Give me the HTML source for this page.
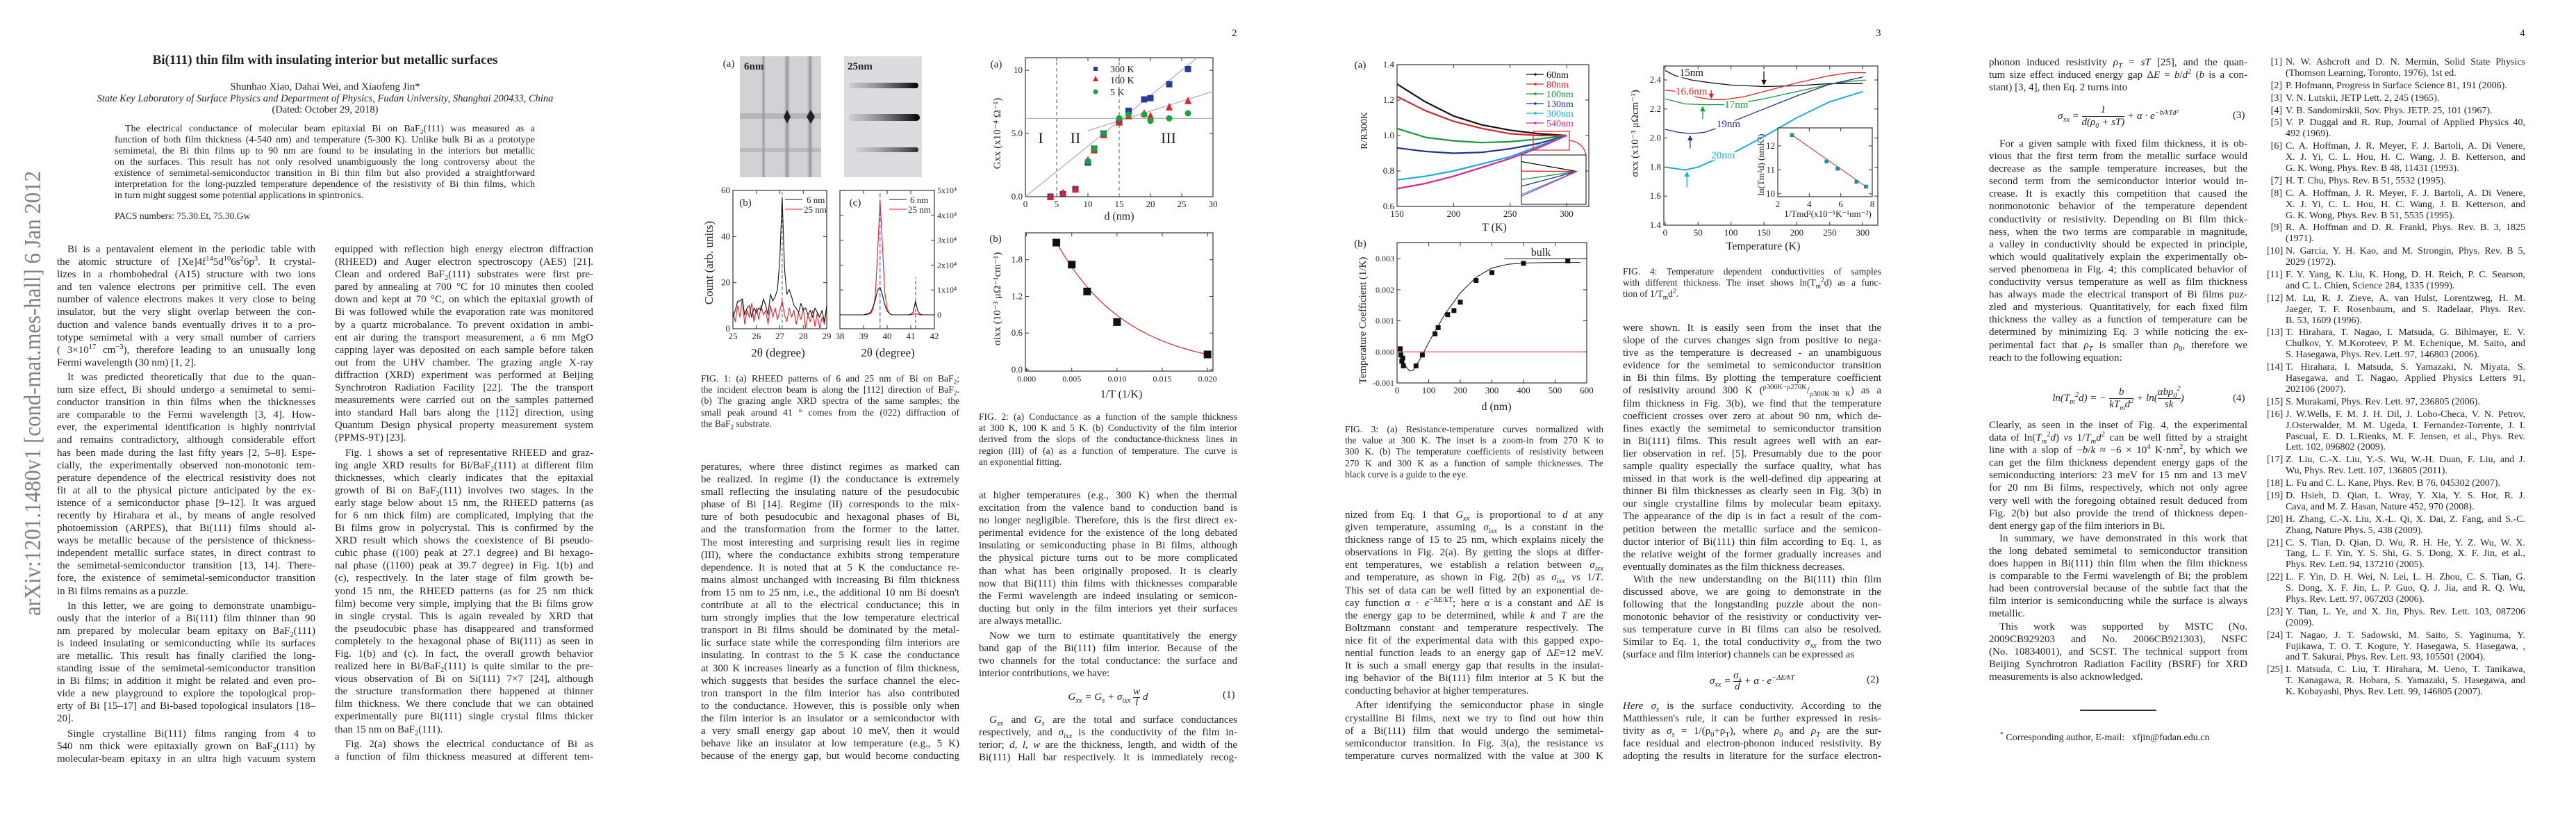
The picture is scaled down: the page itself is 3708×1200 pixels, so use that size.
<!DOCTYPE html>
<html><head><meta charset="utf-8">
<style>
html,body{margin:0;padding:0;background:#fff}
body{width:3708px;height:1200px;position:relative;overflow:hidden;font-family:"Liberation Serif",serif;color:#222}
.col{position:absolute;width:372px;font-size:15px;line-height:18.1px}
.col div{height:18.1px;overflow:hidden;text-align:justify;text-align-last:justify;white-space:normal}
.col .i{text-indent:15px}
.col .e{text-align-last:left}
.col .p{margin-top:3px}
.cap{position:absolute;width:372px;font-size:13.5px;line-height:16.2px}
.cap div{height:16.2px;overflow:hidden;text-align:justify;text-align-last:justify}
.cap .e{text-align-last:left}
.abs{position:absolute;left:165px;top:178px;width:605px;font-size:14px;line-height:16px}
.abs div{height:16px;overflow:hidden;text-align:justify;text-align-last:justify}
.abs .i{text-indent:15px}.abs .e{text-align-last:left}
.ctr{position:absolute;text-align:center;white-space:nowrap}
.eq{position:absolute;width:372px;text-align:center;font-size:15px;font-style:italic}
.eqn{position:absolute;font-size:15px}
.refs{position:absolute;left:3263px;top:82px;width:372px;font-size:14px;line-height:15.9px}
.ref{position:relative;padding-left:27px;margin-bottom:2px}
.ref span.n{position:absolute;left:0;width:22px;text-align:right}
.ref div{height:15.9px;overflow:hidden;text-align:justify;text-align-last:justify}
.ref div.e{text-align-last:left}
.pn{position:absolute;top:40px;font-size:15px}
sub,sup{font-size:70%;line-height:0}
#figs{position:absolute;left:0;top:0}
</style></head>
<body>

<!-- PAGE 1 -->
<div class="ctr" style="left:0;width:936px;top:76px;font-size:19px;font-weight:bold">Bi(111) thin film with insulating interior but metallic surfaces</div>
<div class="ctr" style="left:0;width:936px;top:117px;font-size:15px">Shunhao Xiao, Dahai Wei, and Xiaofeng Jin*</div>
<div class="ctr" style="left:0;width:936px;top:134px;font-size:14.5px;font-style:italic">State Key Laboratory of Surface Physics and Department of Physics, Fudan University, Shanghai 200433, China</div>
<div class="ctr" style="left:0;width:936px;top:150px;font-size:14.5px">(Dated: October 29, 2018)</div>
<div class="abs">
<div class="i">The electrical conductance of molecular beam epitaxial Bi on BaF<sub>2</sub>(111) was measured as a</div>
<div>function of both film thickness (4-540 nm) and temperature (5-300 K). Unlike bulk Bi as a prototype</div>
<div>semimetal, the Bi thin films up to 90 nm are found to be insulating in the interiors but metallic</div>
<div>on the surfaces. This result has not only resolved unambiguously the long controversy about the</div>
<div>existence of semimetal-semiconductor transition in Bi thin film but also provided a straightforward</div>
<div>interpretation for the long-puzzled temperature dependence of the resistivity of Bi thin films, which</div>
<div class="e">in turn might suggest some potential applications in spintronics.</div>
</div>
<div class="ctr" style="left:165px;top:303px;font-size:13.5px">PACS numbers: 75.30.Et, 75.30.Gw</div>

<div class="col" style="left:82px;top:350px">
<div class="i">Bi is a pentavalent element in the periodic table with</div>
<div>the atomic structure of [Xe]4f<sup>14</sup>5d<sup>10</sup>6s<sup>2</sup>6p<sup>3</sup>. It crystal-</div>
<div>lizes in a rhombohedral (A15) structure with two ions</div>
<div>and ten valence electrons per primitive cell. The even</div>
<div>number of valence electrons makes it very close to being</div>
<div>insulator, but the very slight overlap between the con-</div>
<div>duction and valence bands eventually drives it to a pro-</div>
<div>totype semimetal with a very small number of carriers</div>
<div>( 3×10<sup>17</sup> cm<sup>−3</sup>), therefore leading to an unusually long</div>
<div class="e">Fermi wavelength (30 nm) [1, 2].</div>
<div class="i p">It was predicted theoretically that due to the quan-</div>
<div>tum size effect, Bi should undergo a semimetal to semi-</div>
<div>conductor transition in thin films when the thicknesses</div>
<div>are comparable to the Fermi wavelength [3, 4]. How-</div>
<div>ever, the experimental identification is highly nontrivial</div>
<div>and remains contradictory, although considerable effort</div>
<div>has been made during the last fifty years [2, 5–8]. Espe-</div>
<div>cially, the experimentally observed non-monotonic tem-</div>
<div>perature dependence of the electrical resistivity does not</div>
<div>fit at all to the physical picture anticipated by the ex-</div>
<div>istence of a semiconductor phase [9–12]. It was argued</div>
<div>recently by Hirahara et al., by means of angle resolved</div>
<div>photoemission (ARPES), that Bi(111) films should al-</div>
<div>ways be metallic because of the persistence of thickness-</div>
<div>independent metallic surface states, in direct contrast to</div>
<div>the semimetal-semiconductor transition [13, 14]. There-</div>
<div>fore, the existence of semimetal-semiconductor transition</div>
<div class="e">in Bi films remains as a puzzle.</div>
<div class="i p">In this letter, we are going to demonstrate unambigu-</div>
<div>ously that the interior of a Bi(111) film thinner than 90</div>
<div>nm prepared by molecular beam epitaxy on BaF<sub>2</sub>(111)</div>
<div>is indeed insulating or semiconducting while its surfaces</div>
<div>are metallic. This result has finally clarified the long-</div>
<div>standing issue of the semimetal-semiconductor transition</div>
<div>in Bi films; in addition it might be related and even pro-</div>
<div>vide a new playground to explore the topological prop-</div>
<div>erty of Bi [15–17] and Bi-based topological insulators [18–</div>
<div class="e">20].</div>
<div class="i p">Single crystalline Bi(111) films ranging from 4 to</div>
<div>540 nm thick were epitaxially grown on BaF<sub>2</sub>(111) by</div>
<div>molecular-beam epitaxy in an ultra high vacuum system</div>
</div>

<div class="col" style="left:482px;top:350px">
<div>equipped with reflection high energy electron diffraction</div>
<div>(RHEED) and Auger electron spectroscopy (AES) [21].</div>
<div>Clean and ordered BaF<sub>2</sub>(111) substrates were first pre-</div>
<div>pared by annealing at 700 °C for 10 minutes then cooled</div>
<div>down and kept at 70 °C, on which the epitaxial growth of</div>
<div>Bi was followed while the evaporation rate was monitored</div>
<div>by a quartz microbalance. To prevent oxidation in ambi-</div>
<div>ent air during the transport measurement, a 6 nm MgO</div>
<div>capping layer was deposited on each sample before taken</div>
<div>out from the UHV chamber. The grazing angle X-ray</div>
<div>diffraction (XRD) experiment was performed at Beijing</div>
<div>Synchrotron Radiation Facility [22]. The the transport</div>
<div>measurements were carried out on the samples patterned</div>
<div>into standard Hall bars along the [11<span style="text-decoration:overline">2</span>] direction, using</div>
<div>Quantum Design physical property measurement system</div>
<div class="e">(PPMS-9T) [23].</div>
<div class="i p">Fig. 1 shows a set of representative RHEED and graz-</div>
<div>ing angle XRD results for Bi/BaF<sub>2</sub>(111) at different film</div>
<div>thicknesses, which clearly indicates that the epitaxial</div>
<div>growth of Bi on BaF<sub>2</sub>(111) involves two stages. In the</div>
<div>early stage below about 15 nm, the RHEED patterns (as</div>
<div>for 6 nm thick film) are complicated, implying that the</div>
<div>Bi films grow in polycrystal. This is confirmed by the</div>
<div>XRD result which shows the coexistence of Bi pseudo-</div>
<div>cubic phase ((100) peak at 27.1 degree) and Bi hexago-</div>
<div>nal phase ((1100) peak at 39.7 degree) in Fig. 1(b) and</div>
<div>(c), respectively. In the later stage of film growth be-</div>
<div>yond 15 nm, the RHEED patterns (as for 25 nm thick</div>
<div>film) become very simple, implying that the Bi films grow</div>
<div>in single crystal. This is again revealed by XRD that</div>
<div>the pseudocubic phase has disappeared and transformed</div>
<div>completely to the hexagonal phase of Bi(111) as seen in</div>
<div>Fig. 1(b) and (c). In fact, the overall growth behavior</div>
<div>realized here in Bi/BaF<sub>2</sub>(111) is quite similar to the pre-</div>
<div>vious observation of Bi on Si(111) 7×7 [24], although</div>
<div>the structure transformation there happened at thinner</div>
<div>film thickness. We there conclude that we can obtained</div>
<div>experimentally pure Bi(111) single crystal films thicker</div>
<div class="e">than 15 nm on BaF<sub>2</sub>(111).</div>
<div class="i p">Fig. 2(a) shows the electrical conductance of Bi as</div>
<div>a function of film thickness measured at different tem-</div>
</div>

<!-- PAGE 2 -->
<div class="pn" style="left:1773px">2</div>
<div class="cap" style="left:1009px;top:537px">
<div>FIG. 1: (a) RHEED patterns of 6 and 25 nm of Bi on BaF<sub>2</sub>;</div>
<div>the incident electron beam is along the [11<span style="text-decoration:overline">2</span>] direction of BaF<sub>2</sub>.</div>
<div>(b) The grazing angle XRD spectra of the same samples; the</div>
<div>small peak around 41 ° comes from the (0<span style="text-decoration:overline">2</span>2) diffraction of</div>
<div class="e">the BaF<sub>2</sub> substrate.</div>
</div>
<div class="cap" style="left:1409px;top:592px">
<div>FIG. 2: (a) Conductance as a function of the sample thickness</div>
<div>at 300 K, 100 K and 5 K. (b) Conductivity of the film interior</div>
<div>derived from the slops of the conductance-thickness lines in</div>
<div>region (III) of (a) as a function of temperature. The curve is</div>
<div class="e">an exponential fitting.</div>
</div>
<div class="col" style="left:1009px;top:663px">
<div>peratures, where three distinct regimes as marked can</div>
<div>be realized. In regime (I) the conductance is extremely</div>
<div>small reflecting the insulating nature of the pesudocubic</div>
<div>phase of Bi [14]. Regime (II) corresponds to the mix-</div>
<div>ture of both pesudocubic and hexagonal phases of Bi,</div>
<div>and the transformation from the former to the latter.</div>
<div>The most interesting and surprising result lies in regime</div>
<div>(III), where the conductance exhibits strong temperature</div>
<div>dependence. It is noted that at 5 K the conductance re-</div>
<div>mains almost unchanged with increasing Bi film thickness</div>
<div>from 15 nm to 25 nm, i.e., the additional 10 nm Bi doesn't</div>
<div>contribute at all to the electrical conductance; this in</div>
<div>turn strongly implies that the low temperature electrical</div>
<div>transport in Bi films should be dominated by the metal-</div>
<div>lic surface state while the corresponding film interiors are</div>
<div>insulating. In contrast to the 5 K case the conductance</div>
<div>at 300 K increases linearly as a function of film thickness,</div>
<div>which suggests that besides the surface channel the elec-</div>
<div>tron transport in the film interior has also contributed</div>
<div>to the conductance. However, this is possible only when</div>
<div>the film interior is an insulator or a semiconductor with</div>
<div>a very small energy gap about 10 meV, then it would</div>
<div>behave like an insulator at low temperature (e.g., 5 K)</div>
<div>because of the energy gap, but would become conducting</div>
</div>
<div class="col" style="left:1409px;top:704px">
<div>at higher temperatures (e.g., 300 K) when the thermal</div>
<div>excitation from the valence band to conduction band is</div>
<div>no longer negligible. Therefore, this is the first direct ex-</div>
<div>perimental evidence for the existence of the long debated</div>
<div>insulating or semiconducting phase in Bi films, although</div>
<div>the physical picture turns out to be more complicated</div>
<div>than what has been originally proposed. It is clearly</div>
<div>now that Bi(111) thin films with thicknesses comparable</div>
<div>the Fermi wavelength are indeed insulating or semicon-</div>
<div>ducting but only in the film interiors yet their surfaces</div>
<div class="e">are always metallic.</div>
<div class="i p">Now we turn to estimate quantitatively the energy</div>
<div>band gap of the Bi(111) film interior. Because of the</div>
<div>two channels for the total conductance: the surface and</div>
<div class="e">interior contributions, we have:</div>
</div>
<div class="eq" style="left:1409px;top:988px">G<sub>xx</sub> = G<sub>s</sub> + σ<sub>ixx</sub> <span style="display:inline-block;vertical-align:middle;text-align:center;line-height:15px">w<br><span style="border-top:1px solid #222;display:block">l</span></span> d</div>
<div class="eqn" style="left:1760px;top:992px">(1)</div>
<div class="col" style="left:1409px;top:1027px">
<div class="i"><i>G<sub>xx</sub></i> and <i>G<sub>s</sub></i> are the total and surface conductances</div>
<div>respectively, and <i>σ<sub>ixx</sub></i> is the conductivity of the film in-</div>
<div>terior; <i>d</i>, <i>l</i>, <i>w</i> are the thickness, length, and width of the</div>
<div>Bi(111) Hall bar respectively. It is immediately recog-</div>
</div>

<!-- PAGE 3 -->
<div class="pn" style="left:2700px">3</div>
<div class="cap" style="left:2336px;top:383px">
<div>FIG. 4: Temperature dependent conductivities of samples</div>
<div>with different thickness. The inset shows ln(T<sub>m</sub><sup>2</sup>d) as a func-</div>
<div class="e">tion of 1/T<sub>m</sub>d<sup>2</sup>.</div>
</div>
<div class="cap" style="left:1936px;top:610px">
<div>FIG. 3: (a) Resistance-temperature curves normalized with</div>
<div>the value at 300 K. The inset is a zoom-in from 270 K to</div>
<div>300 K. (b) The temperature coefficients of resistivity between</div>
<div>270 K and 300 K as a function of sample thicknesses. The</div>
<div class="e">black curve is a guide to the eye.</div>
</div>
<div class="col" style="left:1936px;top:732px">
<div>nized from Eq. 1 that <i>G<sub>xx</sub></i> is proportional to <i>d</i> at any</div>
<div>given temperature, assuming <i>σ<sub>ixx</sub></i> is a constant in the</div>
<div>thickness range of 15 to 25 nm, which explains nicely the</div>
<div>observations in Fig. 2(a). By getting the slops at differ-</div>
<div>ent temperatures, we establish a relation between <i>σ<sub>ixx</sub></i></div>
<div>and temperature, as shown in Fig. 2(b) as <i>σ<sub>ixx</sub> vs</i> 1/<i>T</i>.</div>
<div>This set of data can be well fitted by an exponential de-</div>
<div>cay function <i>α</i> · <i>e</i><sup>−ΔE/kT</sup>; here <i>α</i> is a constant and Δ<i>E</i> is</div>
<div>the energy gap to be determined, while <i>k</i> and <i>T</i> are the</div>
<div>Boltzmann constant and temperature respectively. The</div>
<div>nice fit of the experimental data with this gapped expo-</div>
<div>nential function leads to an energy gap of Δ<i>E</i>=12 meV.</div>
<div>It is such a small energy gap that results in the insulat-</div>
<div>ing behavior of the Bi(111) film interior at 5 K but the</div>
<div class="e">conducting behavior at higher temperatures.</div>
<div class="i p">After identifying the semiconductor phase in single</div>
<div>crystalline Bi films, next we try to find out how thin</div>
<div>of a Bi(111) film that would undergo the semimetal-</div>
<div>semiconductor transition. In Fig. 3(a), the resistance <i>vs</i></div>
<div>temperature curves normalized with the value at 300 K</div>
</div>
<div class="col" style="left:2336px;top:463px">
<div>were shown. It is easily seen from the inset that the</div>
<div>slope of the curves changes sign from positive to nega-</div>
<div>tive as the temperature is decreased - an unambiguous</div>
<div>evidence for the semimetal to semiconductor transition</div>
<div>in Bi thin films. By plotting the temperature coefficient</div>
<div>of resistivity around 300 K (<sup>ρ300K−ρ270K</sup>/<sub>ρ300K·30 K</sub>) as a function of</div>
<div>film thickness in Fig. 3(b), we find that the temperature</div>
<div>coefficient crosses over zero at about 90 nm, which de-</div>
<div>fines exactly the semimetal to semiconductor transition</div>
<div>in Bi(111) films. This result agrees well with an ear-</div>
<div>lier observation in ref. [5]. Presumably due to the poor</div>
<div>sample quality especially the surface quality, what has</div>
<div>missed in that work is the well-defined dip appearing at</div>
<div>thinner Bi film thicknesses as clearly seen in Fig. 3(b) in</div>
<div>our single crystalline films by molecular beam epitaxy.</div>
<div>The appearance of the dip is in fact a result of the com-</div>
<div>petition between the metallic surface and the semicon-</div>
<div>ductor interior of Bi(111) thin film according to Eq. 1, as</div>
<div>the relative weight of the former gradually increases and</div>
<div class="e">eventually dominates as the film thickness decreases.</div>
<div class="i">With the new understanding on the Bi(111) thin film</div>
<div>discussed above, we are going to demonstrate in the</div>
<div>following that the longstanding puzzle about the non-</div>
<div>monotonic behavior of the resistivity or conductivity ver-</div>
<div>sus temperature curve in Bi films can also be resolved.</div>
<div>Similar to Eq. 1, the total conductivity <i>σ<sub>xx</sub></i> from the two</div>
<div class="e">(surface and film interior) channels can be expressed as</div>
</div>
<div class="eq" style="left:2336px;top:965px">σ<sub>xx</sub> = <span style="display:inline-block;vertical-align:middle;text-align:center;line-height:15px">σ<sub>s</sub><br><span style="border-top:1px solid #222;display:block">d</span></span> + α · e<sup>−ΔE/kT</sup></div>
<div class="eqn" style="left:2687px;top:970px">(2)</div>
<div class="col" style="left:2336px;top:1007px">
<div><i>Here σ<sub>s</sub></i> is the surface conductivity. According to the</div>
<div>Matthiessen's rule, it can be further expressed in resis-</div>
<div>tivity as <i>σ<sub>s</sub></i> = 1/(ρ<sub>0</sub>+ρ<sub>T</sub>), where <i>ρ</i><sub>0</sub> and <i>ρ<sub>T</sub></i> are the sur-</div>
<div>face residual and electron-phonon induced resistivity. By</div>
<div>adopting the results in literature for the surface electron-</div>
</div>

<!-- PAGE 4 -->
<div class="pn" style="left:3627px">4</div>
<div class="col" style="left:2863px;top:81px">
<div>phonon induced resistivity <i>ρ<sub>T</sub></i> = <i>sT</i> [25], and the quan-</div>
<div>tum size effect induced energy gap Δ<i>E</i> = <i>b</i>/<i>d</i><sup>2</sup> (<i>b</i> is a con-</div>
<div class="e">stant) [3, 4], then Eq. 2 turns into</div>
</div>
<div class="eq" style="left:2863px;top:150px">σ<sub>xx</sub> = <span style="display:inline-block;vertical-align:middle;text-align:center;line-height:17px">1<br><span style="border-top:1px solid #222;display:block">d(ρ<sub>0</sub> + sT)</span></span> + α · e<sup>−b/kTd²</sup></div>
<div class="eqn" style="left:3214px;top:158px">(3)</div>
<div class="col" style="left:2863px;top:198px">
<div class="i">For a given sample with fixed film thickness, it is ob-</div>
<div>vious that the first term from the metallic surface would</div>
<div>decrease as the sample temperature increases, but the</div>
<div>second term from the semiconductor interior would in-</div>
<div>crease. It is exactly this competition that caused the</div>
<div>nonmonotonic behavior of the temperature dependent</div>
<div>conductivity or resistivity. Depending on Bi film thick-</div>
<div>ness, when the two terms are comparable in magnitude,</div>
<div>a valley in conductivity should be expected in principle,</div>
<div>which would qualitatively explain the experimentally ob-</div>
<div>served phenomena in Fig. 4; this complicated behavior of</div>
<div>conductivity versus temperature as well as film thickness</div>
<div>has always made the electrical transport of Bi films puz-</div>
<div>zled and mysterious. Quantitatively, for each fixed film</div>
<div>thickness the valley as a function of temperature can be</div>
<div>determined by minimizing Eq. 3 while noticing the ex-</div>
<div>perimental fact that <i>ρ<sub>T</sub></i> is smaller than <i>ρ</i><sub>0</sub>, therefore we</div>
<div class="e">reach to the following equation:</div>
</div>
<div class="eq" style="left:2863px;top:556px">ln(T<sub>m</sub><sup>2</sup>d) = − <span style="display:inline-block;vertical-align:middle;text-align:center;line-height:17px">b<br><span style="border-top:1px solid #222;display:block">kT<sub>m</sub>d<sup>2</sup></span></span> + ln(<span style="display:inline-block;vertical-align:middle;text-align:center;line-height:17px">αbρ<sub>0</sub><sup>2</sup><br><span style="border-top:1px solid #222;display:block">sk</span></span>)</div>
<div class="eqn" style="left:3214px;top:565px">(4)</div>
<div class="col" style="left:2863px;top:603px">
<div>Clearly, as seen in the inset of Fig. 4, the experimental</div>
<div>data of ln(<i>T<sub>m</sub></i><sup>2</sup><i>d</i>) <i>vs</i> 1/<i>T<sub>m</sub>d</i><sup>2</sup> can be well fitted by a straight</div>
<div>line with a slop of −<i>b</i>/<i>k</i> ≈ −6 × 10<sup>4</sup> K·nm<sup>2</sup>, by which we</div>
<div>can get the film thickness dependent energy gaps of the</div>
<div>semiconducting interiors: 23 meV for 15 nm and 13 meV</div>
<div>for 20 nm Bi films, respectively, which not only agree</div>
<div>very well with the foregoing obtained result deduced from</div>
<div>Fig. 2(b) but also provide the trend of thickness depen-</div>
<div class="e">dent energy gap of the film interiors in Bi.</div>
<div class="i">In summary, we have demonstrated in this work that</div>
<div>the long debated semimetal to semiconductor transition</div>
<div>does happen in Bi(111) thin film when the film thickness</div>
<div>is comparable to the Fermi wavelength of Bi; the problem</div>
<div>had been controversial because of the subtle fact that the</div>
<div>film interior is semiconducting while the surface is always</div>
<div class="e">metallic.</div>
<div class="i">This work was supported by MSTC (No.</div>
<div>2009CB929203 and No. 2006CB921303), NSFC</div>
<div>(No. 10834001), and SCST. The technical support from</div>
<div>Beijing Synchrotron Radiation Facility (BSRF) for XRD</div>
<div class="e">measurements is also acknowledged.</div>
</div>
<div style="position:absolute;left:2994px;top:1021px;width:110px;height:1.5px;background:#333"></div>
<div class="ctr" style="left:2879px;top:1054px;font-size:14px"><sup>*</sup> Corresponding author, E-mail: &nbsp; xfjin@fudan.edu.cn</div>

<div class="refs">
<div class="ref"><span class="n">[1]</span><div>N. W. Ashcroft and D. N. Mermin, Solid State Physics</div><div class="e">(Thomson Learning, Toronto, 1976), 1st ed.</div></div>
<div class="ref"><span class="n">[2]</span><div class="e">P. Hofmann, Progress in Surface Science 81, 191 (2006).</div></div>
<div class="ref"><span class="n">[3]</span><div class="e">V. N. Lutskii, JETP Lett. 2, 245 (1965).</div></div>
<div class="ref"><span class="n">[4]</span><div class="e">V. B. Sandomirskii, Sov. Phys. JETP. 25, 101 (1967).</div></div>
<div class="ref"><span class="n">[5]</span><div>V. P. Duggal and R. Rup, Journal of Applied Physics 40,</div><div class="e">492 (1969).</div></div>
<div class="ref"><span class="n">[6]</span><div>C. A. Hoffman, J. R. Meyer, F. J. Bartoli, A. Di Venere,</div><div>X. J. Yi, C. L. Hou, H. C. Wang, J. B. Ketterson, and</div><div class="e">G. K. Wong, Phys. Rev. B 48, 11431 (1993).</div></div>
<div class="ref"><span class="n">[7]</span><div class="e">H. T. Chu, Phys. Rev. B 51, 5532 (1995).</div></div>
<div class="ref"><span class="n">[8]</span><div>C. A. Hoffman, J. R. Meyer, F. J. Bartoli, A. Di Venere,</div><div>X. J. Yi, C. L. Hou, H. C. Wang, J. B. Ketterson, and</div><div class="e">G. K. Wong, Phys. Rev. B 51, 5535 (1995).</div></div>
<div class="ref"><span class="n">[9]</span><div>R. A. Hoffman and D. R. Frankl, Phys. Rev. B. 3, 1825</div><div class="e">(1971).</div></div>
<div class="ref"><span class="n">[10]</span><div>N. Garcia, Y. H. Kao, and M. Strongin, Phys. Rev. B 5,</div><div class="e">2029 (1972).</div></div>
<div class="ref"><span class="n">[11]</span><div>F. Y. Yang, K. Liu, K. Hong, D. H. Reich, P. C. Searson,</div><div class="e">and C. L. Chien, Science 284, 1335 (1999).</div></div>
<div class="ref"><span class="n">[12]</span><div>M. Lu, R. J. Zieve, A. van Hulst, Lorentzweg, H. M.</div><div>Jaeger, T. F. Rosenbaum, and S. Radelaar, Phys. Rev.</div><div class="e">B. 53, 1609 (1996).</div></div>
<div class="ref"><span class="n">[13]</span><div>T. Hirahara, T. Nagao, I. Matsuda, G. Bihlmayer, E. V.</div><div>Chulkov, Y. M.Koroteev, P. M. Echenique, M. Saito, and</div><div class="e">S. Hasegawa, Phys. Rev. Lett. 97, 146803 (2006).</div></div>
<div class="ref"><span class="n">[14]</span><div>T. Hirahara, I. Matsuda, S. Yamazaki, N. Miyata, S.</div><div>Hasegawa, and T. Nagao, Applied Physics Letters 91,</div><div class="e">202106 (2007).</div></div>
<div class="ref"><span class="n">[15]</span><div class="e">S. Murakami, Phys. Rev. Lett. 97, 236805 (2006).</div></div>
<div class="ref"><span class="n">[16]</span><div>J. W.Wells, F. M. J. H. Dil, J. Lobo-Checa, V. N. Petrov,</div><div>J.Osterwalder, M. M. Ugeda, I. Fernandez-Torrente, J. I.</div><div>Pascual, E. D. L.Rienks, M. F. Jensen, et al., Phys. Rev.</div><div class="e">Lett. 102, 096802 (2009).</div></div>
<div class="ref"><span class="n">[17]</span><div>Z. Liu, C.-X. Liu, Y.-S. Wu, W.-H. Duan, F. Liu, and J.</div><div class="e">Wu, Phys. Rev. Lett. 107, 136805 (2011).</div></div>
<div class="ref"><span class="n">[18]</span><div class="e">L. Fu and C. L. Kane, Phys. Rev. B 76, 045302 (2007).</div></div>
<div class="ref"><span class="n">[19]</span><div>D. Hsieh, D. Qian, L. Wray, Y. Xia, Y. S. Hor, R. J.</div><div class="e">Cava, and M. Z. Hasan, Nature 452, 970 (2008).</div></div>
<div class="ref"><span class="n">[20]</span><div>H. Zhang, C.-X. Liu, X.-L. Qi, X. Dai, Z. Fang, and S.-C.</div><div class="e">Zhang, Nature Phys. 5, 438 (2009).</div></div>
<div class="ref"><span class="n">[21]</span><div>C. S. Tian, D. Qian, D. Wu, R. H. He, Y. Z. Wu, W. X.</div><div>Tang, L. F. Yin, Y. S. Shi, G. S. Dong, X. F. Jin, et al.,</div><div class="e">Phys. Rev. Lett. 94, 137210 (2005).</div></div>
<div class="ref"><span class="n">[22]</span><div>L. F. Yin, D. H. Wei, N. Lei, L. H. Zhou, C. S. Tian, G.</div><div>S. Dong, X. F. Jin, L. P. Guo, Q. J. Jia, and R. Q. Wu,</div><div class="e">Phys. Rev. Lett. 97, 067203 (2006).</div></div>
<div class="ref"><span class="n">[23]</span><div>Y. Tian, L. Ye, and X. Jin, Phys. Rev. Lett. 103, 087206</div><div class="e">(2009).</div></div>
<div class="ref"><span class="n">[24]</span><div>T. Nagao, J. T. Sadowski, M. Saito, S. Yaginuma, Y.</div><div>Fujikawa, T. O. T. Kogure, Y. Hasegawa, S. Hasegawa, ,</div><div class="e">and T. Sakurai, Phys. Rev. Lett. 93, 105501 (2004).</div></div>
<div class="ref"><span class="n">[25]</span><div>I. Matsuda, C. Liu, T. Hirahara, M. Ueno, T. Tanikawa,</div><div>T. Kanagawa, R. Hobara, S. Yamazaki, S. Hasegawa, and</div><div class="e">K. Kobayashi, Phys. Rev. Lett. 99, 146805 (2007).</div></div>
</div>

<svg id="figs" width="3708" height="1200" xmlns="http://www.w3.org/2000/svg">
<text x="0" y="0" transform="translate(58,886) rotate(-90)" font-family="Liberation Serif, serif" font-size="34" fill="#808080" textLength="640" lengthAdjust="spacingAndGlyphs">arXiv:1201.1480v1  [cond-mat.mes-hall]  6 Jan 2012</text>
<defs>
<linearGradient id="vs" x1="0" x2="1" y1="0" y2="0"><stop offset="0" stop-color="#d6d6da" stop-opacity="0"/><stop offset="0.5" stop-color="#666" stop-opacity="0.6"/><stop offset="1" stop-color="#d6d6da" stop-opacity="0"/></linearGradient>
<linearGradient id="hs" x1="0" x2="1" y1="0" y2="0"><stop offset="0" stop-color="#888" stop-opacity="0.2"/><stop offset="0.6" stop-color="#333" stop-opacity="0.7"/><stop offset="1" stop-color="#000"/></linearGradient>
</defs>
<g>
<rect x="1065" y="81" width="117" height="174" fill="#d2d2d6"/>
<rect x="1095" y="81" width="8" height="174" fill="url(#vs)"/>
<rect x="1127" y="81" width="12" height="174" fill="url(#vs)"/>
<rect x="1160" y="81" width="12" height="174" fill="url(#vs)"/>
<rect x="1065" y="163" width="117" height="8" fill="#999" opacity="0.5"/>
<rect x="1065" y="213" width="117" height="6" fill="#999" opacity="0.4"/>
<path d="M1133 158 L1138 168 L1133 178 L1128 168Z M1167 158 L1173 168 L1167 178 L1161 168Z" fill="#222"/>
<text x="1071" y="100" font-family="Liberation Serif, serif" font-size="15" font-weight="bold" fill="#222">6nm</text>
</g>
<g>
<rect x="1215" y="81" width="112" height="174" fill="#dcdce0"/>
<rect x="1222" y="119" width="100" height="8" rx="4" fill="url(#hs)"/>
<rect x="1222" y="164" width="102" height="10" rx="5" fill="url(#hs)"/>
<rect x="1232" y="212" width="90" height="7" rx="3" fill="url(#hs)" opacity="0.8"/>
<text x="1220" y="100" font-family="Liberation Serif, serif" font-size="15" font-weight="bold" fill="#222">25nm</text>
</g>
</svg>

<script>
// ---------- DATA ----------
// Fig 1(b): XRD 25-29 deg
const f1bAngles = [25,25.1,25.2,25.3,25.4,25.5,25.6,25.7,25.8,25.9,26,26.1,26.2,26.3,26.4,26.5,26.6,26.7,26.8,26.9,27,27.1,27.2,27.3,27.4,27.5,27.6,27.7,27.8,27.9,28,28.1,28.2,28.3,28.4,28.5,28.6,28.7,28.8,28.9,29];
const f1b6nm = [5,8,12,12,13,6,9,10,5,9,7,9,8,13,10,6,15,12,14,17,30,57,26,15,17,14,10,9,7,11,8,9,6,8,5,9,7,5,8,3,10];
const f1b25nm = [8,3,10,5,13,2,8,5,11,3,9,4,10,6,8,2,10,5,9,4,8,12,6,3,9,5,8,2,7,4,9,0,6,3,8,1,7,0,5,2,9];
const f1bXTicks = [25,26,27,28,29];
const f1bYTicks = [0,20,40,60];
// Fig 1(c): XRD 38-42 deg (units of 1e4)
const f1cAngles = [38,38.1,38.2,38.3,38.4,38.5,38.6,38.7,38.8,38.9,39,39.1,39.2,39.3,39.4,39.5,39.6,39.7,39.8,39.9,40,40.1,40.2,40.3,40.4,40.5,40.6,40.7,40.8,40.9,41,41.1,41.2,41.3,41.4,41.5,41.6,41.7,41.8,41.9,42];
const f1c6nm = [0,0,0,0,0,0,0,0,0,0,0,0.02,0.05,0.1,0.3,0.6,1.0,1.1,0.8,0.4,0.15,0.05,0,0,0,0,0,0,0,0,0.02,0.1,0.55,0.15,0.02,0,0,0,0,0,0];
const f1c25nm = [0,0,0,0,0,0,0,0,0,0,0,0,0.02,0.05,0.2,0.8,2.6,4.6,2.8,0.9,0.25,0.05,0,0,0,0,0,0,0,0,0,0.02,0.05,0.02,0,0,0,0,0,0,0];
const f1cXTicks = [38,39,40,41,42];
const f1cYTicks = [0,1,2,3,4,5];
const f1cYLabels = ['0','1x10⁴','2x10⁴','3x10⁴','4x10⁴','5x10⁴'];
// Fig 2(a)
const f2aD300 = [4,6,8,10,11,12.5,15,16.5,19,20,23,26];
const f2aG300 = [0,0.2,0.6,2.7,3.8,5.0,6.0,6.8,7.7,7.8,8.9,10.1];
const f2aD100 = [4,6,8,10,11,12.5,15,16.5,19,20,23,26];
const f2aG100 = [0,0.3,0.6,2.9,3.7,4.9,5.9,6.4,6.6,6.4,7.1,7.6];
const f2aD5 = [10,11,12.5,15,16.5,19,20,23,26];
const f2aG5 = [2.8,3.8,5.0,6.2,6.5,6.5,6.0,6.2,6.6];
const f2aFitSlope = [0.4,0.155,0];
const f2aFitPivotD = [15,15,15];
const f2aFitPivotG = [6.0,6.0,6.2];
const f2aXTicks = [0,5,10,15,20,25,30];
const f2aYTicks = [0,5,10];
const f2aYLabels = ['0.0','5.0','10'];
// Fig 2(b)
const f2bInvT = [0.0033,0.005,0.0067,0.01,0.02];
const f2bSigma = [2.08,1.72,1.28,0.78,0.25];
const f2bFitA = [3.17];
const f2bFitB = [127];
const f2bXTicks = [0,0.005,0.01,0.015,0.02];
const f2bXLabels = ['0.000','0.005','0.010','0.015','0.020'];
const f2bYTicks = [0,0.6,1.2,1.8];
const f2bYLabels = ['0.0','0.6','1.2','1.8'];
// Fig 3(a)
const f3aT = [150,175,200,225,250,275,300];
const f3a60 = [1.29,1.19,1.11,1.06,1.03,1.01,1.0];
const f3a80 = [1.22,1.14,1.08,1.04,1.01,1.0,1.0];
const f3a100 = [1.04,0.99,0.97,0.96,0.965,0.98,1.0];
const f3a130 = [0.93,0.91,0.90,0.905,0.925,0.955,1.0];
const f3a300 = [0.75,0.77,0.80,0.84,0.88,0.94,1.0];
const f3a540 = [0.70,0.73,0.77,0.82,0.87,0.93,1.0];
const f3aNames = ['60nm','80nm','100nm','130nm','300nm','540nm'];
const f3aInsetStart = [1.03,1.001,0.975,0.955,0.93,0.925];
const f3aXTicks = [150,200,250,300];
const f3aYTicks = [0.6,0.8,1.0,1.2,1.4];
const f3aYLabels = ['0.6','0.8','1.0','1.2','1.4'];
// Fig 3(b)
const f3bD = [10,12,15,18,20,60,80,120,130,160,180,200,250,300,400,540];
const f3bCoef = [0.0001,-0.0001,-0.0003,-0.0002,-0.00045,-0.00045,-0.0001,0.00058,0.00078,0.0012,0.00133,0.0016,0.0023,0.00255,0.00285,0.00293];
const f3bGuideD = [12,20,30,40,50,60,80,100,150,200,250,300,350,400,450,500,580];
const f3bGuideC = [0.0001,-0.0003,-0.0005,-0.00062,-0.0006,-0.00045,-0.0001,0.0003,0.0012,0.0019,0.0024,0.0027,0.00282,0.00286,0.00287,0.00288,0.00288];
const f3bXTicks = [0,100,200,300,400,500,600];
const f3bYTicks = [-0.001,0,0.001,0.002,0.003];
const f3bYLabels = ['-0.001','0.000','0.001','0.002','0.003'];
// Fig 4
const f4T15 = [0,15,40,70,100,150,200,250,300];
const f4S15 = [2.465,2.43,2.40,2.38,2.365,2.355,2.36,2.375,2.375];
const f4T166 = [0,20,50,70,90,120,150,200,250,280,305];
const f4S166 = [2.33,2.32,2.28,2.265,2.265,2.285,2.32,2.38,2.43,2.45,2.45];
const f4T17 = [0,30,60,90,120,150,200,250,280,305];
const f4S17 = [2.27,2.235,2.23,2.23,2.245,2.27,2.32,2.37,2.39,2.40];
const f4T19 = [0,20,40,60,80,100,150,200,250,300];
const f4S19 = [2.06,2.04,2.03,2.04,2.07,2.11,2.20,2.29,2.37,2.42];
const f4T20 = [0,15,30,50,70,100,150,200,250,300];
const f4S20 = [1.80,1.79,1.78,1.80,1.84,1.89,2.01,2.14,2.25,2.32];
const f4XTicks = [0,50,100,150,200,250,300];
const f4YTicks = [1.4,1.6,1.8,2.0,2.2,2.4];
const f4YLabels = ['1.4','1.6','1.8','2.0','2.2','2.4'];
const f4InsetX = [2.9,5.1,5.8,7.0,7.6];
const f4InsetY = [12.45,11.35,11.05,10.5,10.3];
const f4InsetXTicks = [2,4,6,8];
const f4InsetYTicks = [10,11,12];

// ---------- HELPERS ----------
const NS = 'http://www.w3.org/2000/svg';
const svg = document.getElementById('figs');
const SERIF = 'Liberation Serif, serif';
function el(tag, name, attrs, parent) {
  const e = document.createElementNS(NS, tag);
  
  
  for (const k in attrs) e.setAttribute(k, attrs[k]);
  (parent || svg).appendChild(e);
  return e;
}
function txt(name, x, y, s, opt) {
  const a = {x: x, y: y, 'font-family': SERIF, 'font-size': 13, fill: '#222', 'text-anchor': 'middle'};
  Object.assign(a, opt || {});
  const t = el('text', name, a);
  t.textContent = s;
  return t;
}
function frame(name, b, xd, yd) {
  const sx = v => b.x0 + (v - xd[0]) / (xd[1] - xd[0]) * (b.x1 - b.x0);
  const sy = v => b.y1 - (v - yd[0]) / (yd[1] - yd[0]) * (b.y1 - b.y0);
  el('rect', name + '-frame', {x: b.x0, y: b.y0, width: b.x1 - b.x0, height: b.y1 - b.y0, fill: 'none', stroke: '#333', 'stroke-width': 1.2});
  return {sx: sx, sy: sy, b: b};
}
function xticks(f, name, vals, labels, fs) {
  vals.forEach((v, i) => {
    const x = f.sx(v);
    el('line', name + '-tick', {x1: x, x2: x, y1: f.b.y1, y2: f.b.y1 - 5, stroke: '#333'});
    el('line', name + '-tick-top', {x1: x, x2: x, y1: f.b.y0, y2: f.b.y0 + 5, stroke: '#333'});
    if (labels) txt(name + '-label', x, f.b.y1 + 15, labels[i], {'font-size': fs || 13});
  });
}
function yticks(f, name, vals, labels, side, fs) {
  vals.forEach((v, i) => {
    const y = f.sy(v);
    el('line', name + '-tick', {x1: f.b.x0, x2: f.b.x0 + 5, y1: y, y2: y, stroke: '#333'});
    el('line', name + '-tick-right', {x1: f.b.x1, x2: f.b.x1 - 5, y1: y, y2: y, stroke: '#333'});
    if (labels) {
      if (side === 'right') txt(name + '-label', f.b.x1 + 4, y + 4, labels[i], {'text-anchor': 'start', 'font-size': fs || 13});
      else txt(name + '-label', f.b.x0 - 4, y + 4, labels[i], {'text-anchor': 'end', 'font-size': fs || 13});
    }
  });
}
function line(f, name, xs, ys, color, w, dash) {
  const d = xs.map((x, i) => (i ? 'L' : 'M') + f.sx(x).toFixed(1) + ',' + f.sy(ys[i]).toFixed(1)).join('');
  const a = {d: d, fill: 'none', stroke: color, 'stroke-width': w || 1.3, 'stroke-linejoin': 'round'};
  if (dash) a['stroke-dasharray'] = dash;
  return el('path', name, a);
}
function marks(f, name, xs, ys, shape, color, s) {
  xs.forEach((x, i) => {
    const X = f.sx(x), Y = f.sy(ys[i]);
    if (shape === 'sq') el('rect', name, {x: X - s, y: Y - s, width: 2 * s, height: 2 * s, fill: color});
    else if (shape === 'tri') el('path', name, {d: 'M' + X + ',' + (Y - s - 1) + 'L' + (X + s) + ',' + (Y + s) + 'L' + (X - s) + ',' + (Y + s) + 'Z', fill: color});
    else el('circle', name, {cx: X, cy: Y, r: s, fill: color});
  });
}
function ylabel(name, x, y, s, fs) {
  const t = txt(name, x, y, s, {'font-size': fs || 15, transform: 'rotate(-90 ' + x + ' ' + y + ')'});
  return t;
}
const RED = '#e0232b', GREEN = '#17973c', BLUE = '#1e2a8a', CYAN = '#19ade3', MAG = '#e02090', NAVY = '#23308f';

// ---------- FIG 1(b) ----------
const g1b = frame('fig1b', {x0: 1055, y0: 274, x1: 1190, y1: 473}, [25, 29], [0, 60]);
xticks(g1b, 'fig1b-x', f1bXTicks, f1bXTicks.map(String));
yticks(g1b, 'fig1b-y', f1bYTicks, f1bYTicks.map(String));
line(g1b, 'fig1b-peak-marker', [27.1, 27.1], [0, 60], '#555', 1, '5,3');
line(g1b, 'fig1b-25nm-line', f1bAngles, f1b25nm, RED, 1.1);
line(g1b, 'fig1b-6nm-line', f1bAngles, f1b6nm, '#111', 1.1);
txt('fig1b-panel-label', 1073, 296, '(b)', {'font-size': 15});
el('line', 'fig1b-legend-6nm-swatch', {x1: 1130, x2: 1155, y1: 287, y2: 287, stroke: '#111'});
txt('fig1b-legend-6nm', 1161, 292, '6 nm', {'text-anchor': 'start'});
el('line', 'fig1b-legend-25nm-swatch', {x1: 1130, x2: 1155, y1: 301, y2: 301, stroke: RED});
txt('fig1b-legend-25nm', 1157, 306, '25 nm', {'text-anchor': 'start'});
ylabel('fig1b-y-title', 1026, 378, 'Count (arb. units)', 17);
txt('fig1b-x-title', 1120, 513, '2θ (degree)', {'font-size': 17});

// ---------- FIG 1(c) ----------
const g1c = frame('fig1c', {x0: 1209, y0: 274, x1: 1345, y1: 473}, [38, 42], [-0.56, 5]);
xticks(g1c, 'fig1c-x', f1cXTicks, f1cXTicks.map(String));
yticks(g1c, 'fig1c-y', f1cYTicks, f1cYLabels, 'right', 12);
line(g1c, 'fig1c-hex-peak-marker', [39.7, 39.7], [-0.56, 5], '#5566cc', 1.2, '6,3');
line(g1c, 'fig1c-baf2-peak-marker', [41.2, 41.2], [-0.56, 1.5], RED, 1, '5,3');
line(g1c, 'fig1c-25nm-line', f1cAngles, f1c25nm, RED, 1.1);
line(g1c, 'fig1c-6nm-line', f1cAngles, f1c6nm, '#111', 1.1);
txt('fig1c-panel-label', 1231, 296, '(c)', {'font-size': 15});
el('line', 'fig1c-legend-6nm-swatch', {x1: 1280, x2: 1305, y1: 287, y2: 287, stroke: '#111'});
txt('fig1c-legend-6nm', 1310, 292, '6 nm', {'text-anchor': 'start'});
el('line', 'fig1c-legend-25nm-swatch', {x1: 1280, x2: 1305, y1: 301, y2: 301, stroke: RED});
txt('fig1c-legend-25nm', 1307, 306, '25 nm', {'text-anchor': 'start'});
txt('fig1c-x-title', 1278, 513, '2θ (degree)', {'font-size': 17});
txt('fig1a-panel-label', 1049, 96, '(a)', {'font-size': 15});

// ---------- FIG 2(a) ----------
const g2a = frame('fig2a', {x0: 1476, y0: 83, x1: 1746, y1: 283}, [0, 30], [0, 11]);
xticks(g2a, 'fig2a-x', f2aXTicks, f2aXTicks.map(String));
yticks(g2a, 'fig2a-y', f2aYTicks, f2aYLabels);
line(g2a, 'fig2a-regime-divider-1', [5, 5], [0, 11], '#555', 1, '5,4');
line(g2a, 'fig2a-regime-divider-2', [15, 15], [0, 11], '#555', 1, '5,4');
[0, 1, 2].forEach(k => {
  const s = f2aFitSlope[k];
  const x0 = k === 0 ? 0 : (k === 1 ? 10 : 0);
  let x1 = 30;
  if (s > 0) x1 = Math.min(30, f2aFitPivotD[k] + (11 - f2aFitPivotG[k]) / s);
  line(g2a, 'fig2a-fit-line', [x0, x1], [f2aFitPivotG[k] + s * (x0 - f2aFitPivotD[k]), f2aFitPivotG[k] + s * (x1 - f2aFitPivotD[k])], '#aaa', 1.2);
});
marks(g2a, 'fig2a-300k-point', f2aD300, f2aG300, 'sq', '#2b3a9a', 4.5);
marks(g2a, 'fig2a-100k-point', f2aD100, f2aG100, 'tri', RED, 5);
marks(g2a, 'fig2a-5k-point', f2aD5, f2aG5, 'circ', '#19a33f', 4.5);
txt('fig2a-panel-label', 1434, 97, '(a)', {'font-size': 15});
el('rect', 'fig2a-legend-300k-marker', {x: 1574, y: 96, width: 6, height: 6, fill: '#2b3a9a'});
txt('fig2a-legend-300k', 1598, 104, '300 K', {'text-anchor': 'start', 'font-size': 14});
el('path', 'fig2a-legend-100k-marker', {d: 'M1577,109 L1581,117 L1573,117Z', fill: RED});
txt('fig2a-legend-100k', 1598, 120, '100 K', {'text-anchor': 'start', 'font-size': 14});
el('circle', 'fig2a-legend-5k-marker', {cx: 1577, cy: 132, r: 3.5, fill: '#19a33f'});
txt('fig2a-legend-5k', 1598, 137, '5 K', {'text-anchor': 'start', 'font-size': 14});
txt('fig2a-regime-I', 1498, 206, 'I', {'font-size': 22});
txt('fig2a-regime-II', 1548, 206, 'II', {'font-size': 22});
txt('fig2a-regime-III', 1682, 206, 'III', {'font-size': 22});
ylabel('fig2a-y-title', 1440, 192, 'Gxx (x10⁻⁴ Ω⁻¹)', 15);
txt('fig2a-x-title', 1611, 316, 'd (nm)', {'font-size': 16});

// ---------- FIG 2(b) ----------
const g2b = frame('fig2b', {x0: 1476, y0: 335, x1: 1746, y1: 534}, [-0.00012, 0.0206], [-0.023, 2.24]);
xticks(g2b, 'fig2b-x', f2bXTicks, f2bXLabels, 12);
yticks(g2b, 'fig2b-y', f2bYTicks, f2bYLabels);
const fitX = [], fitY = [];
for (let x = 0.0033; x <= 0.0201; x += 0.0004) { fitX.push(x); fitY.push(f2bFitA[0] * Math.exp(-f2bFitB[0] * x)); }
line(g2b, 'fig2b-exponential-fit', fitX, fitY, RED, 1.2);
marks(g2b, 'fig2b-point', f2bInvT, f2bSigma, 'sq', '#111', 5.5);
txt('fig2b-panel-label', 1433, 348, '(b)', {'font-size': 15});
ylabel('fig2b-y-title', 1440, 430, 'σixx (10⁻³ μΩ⁻¹cm⁻¹)', 15);
txt('fig2b-x-title', 1614, 572, '1/T (1/K)', {'font-size': 16});

// ---------- FIG 3(a) ----------
const g3a = frame('fig3a', {x0: 2011, y0: 93, x1: 2287, y1: 297}, [150, 319.7], [0.6, 1.4]);
xticks(g3a, 'fig3a-x', f3aXTicks, f3aXTicks.map(String));
yticks(g3a, 'fig3a-y', f3aYTicks, f3aYLabels);
const f3aSeries = [f3a60, f3a80, f3a100, f3a130, f3a300, f3a540];
const f3aColors = ['#111', RED, GREEN, NAVY, CYAN, MAG];
f3aSeries.forEach((ys, k) => { line(g3a, 'fig3a-curve-' + f3aNames[k], f3aT, ys, f3aColors[k], 2.2); });
f3aNames.forEach((n, k) => {
  const y = 107 + k * 14;
  el('line', 'fig3a-legend-swatch', {x1: 2197, x2: 2222, y1: y, y2: y, stroke: f3aColors[k], 'stroke-width': 1.3});
  el('circle', 'fig3a-legend-marker', {cx: 2210, cy: y, r: 1.8, fill: f3aColors[k]});
  txt('fig3a-legend-' + n, 2226, y + 5, n, {'text-anchor': 'start', fill: f3aColors[k], 'font-size': 14});
});
el('rect', 'fig3a-zoom-box', {x: 2207, y: 189, width: 52, height: 27, fill: 'none', stroke: RED, 'stroke-width': 1.2});
el('path', 'fig3a-zoom-arrow', {d: 'M2259,202 Q2280,205 2283,224', fill: 'none', stroke: RED, 'stroke-width': 1.2});
const g3ai = frame('fig3a-inset', {x0: 2190, y0: 223, x1: 2283, y1: 294}, [270, 305], [0.9, 1.05]);
f3aInsetStart.forEach((v, k) => { line(g3ai, 'fig3a-inset-curve', [270, 300], [v, 1.0], f3aColors[k], 1.3); });
txt('fig3a-panel-label', 1958, 98, '(a)', {'font-size': 15});
ylabel('fig3a-y-title', 1968, 188, 'R/R300K', 14);
txt('fig3a-x-title', 2151, 332, 'T (K)', {'font-size': 16});

// ---------- FIG 3(b) ----------
const g3b = frame('fig3b', {x0: 2011, y0: 349, x1: 2284, y1: 551}, [0, 600], [-0.001, 0.00352]);
xticks(g3b, 'fig3b-x', f3bXTicks, f3bXTicks.map(String));
yticks(g3b, 'fig3b-y', f3bYTicks, f3bYLabels, 'left', 12);
line(g3b, 'fig3b-zero-line', [0, 600], [0, 0], RED, 1);
line(g3b, 'fig3b-bulk-line', [340, 600], [0.003, 0.003], '#333', 1.2);
txt('fig3b-bulk-label', 2218, 368, 'bulk', {'font-size': 16});
line(g3b, 'fig3b-guide-curve', f3bGuideD, f3bGuideC, '#111', 1);
marks(g3b, 'fig3b-point', f3bD, f3bCoef, 'sq', '#111', 3.5);
txt('fig3b-panel-label', 1958, 355, '(b)', {'font-size': 15});
ylabel('fig3b-y-title', 1966, 461, 'Temperature Coefficient (1/K)', 15);
txt('fig3b-x-title', 2154, 590, 'd (nm)', {'font-size': 16});

// ---------- FIG 4 ----------
const g4 = frame('fig4', {x0: 2395, y0: 95, x1: 2703, y1: 324}, [-2, 323], [1.4, 2.496]);
xticks(g4, 'fig4-x', f4XTicks, f4XTicks.map(String));
yticks(g4, 'fig4-y', f4YTicks, f4YLabels);
line(g4, 'fig4-curve-15nm', f4T15, f4S15, '#111', 1.3);
line(g4, 'fig4-curve-16.6nm', f4T166, f4S166, RED, 1.3);
line(g4, 'fig4-curve-17nm', f4T17, f4S17, GREEN, 1.3);
line(g4, 'fig4-curve-19nm', f4T19, f4S19, NAVY, 1.3);
line(g4, 'fig4-curve-20nm', f4T20, f4S20, CYAN, 2);
function lab(name, x, y, s, c) {
  const t = txt(name, g4.sx(x), g4.sy(y), s, {'text-anchor': 'start', fill: c, 'font-size': 15, stroke: '#fff', 'stroke-width': 5, 'paint-order': 'stroke'});
}
lab('fig4-label-15nm', 22, 2.43, '15nm', '#111');
lab('fig4-label-16.6nm', 16, 2.30, '16.6nm', RED);
lab('fig4-label-17nm', 90, 2.21, '17nm', GREEN);
lab('fig4-label-19nm', 78, 2.075, '19nm', NAVY);
lab('fig4-label-20nm', 70, 1.86, '20nm', CYAN);
function arrow(name, x, y1, y2, c) {
  const X = g4.sx(x), A = g4.sy(y1), B = g4.sy(y2);
  el('line', name, {x1: X, x2: X, y1: A, y2: B, stroke: c, 'stroke-width': 1.3});
  const dir = B > A ? -1 : 1;
  el('path', name + '-head', {d: 'M' + (X - 3) + ',' + (B + dir * 6) + 'L' + X + ',' + B + 'L' + (X + 3) + ',' + (B + dir * 6) + 'Z', fill: c, stroke: c});
}
arrow('fig4-arrow-15nm', 150, 2.46, 2.37, '#111');
arrow('fig4-arrow-16.6nm', 70, 2.33, 2.275, RED);
arrow('fig4-arrow-17nm', 57, 2.13, 2.215, GREEN);
arrow('fig4-arrow-19nm', 38, 1.93, 2.015, NAVY);
arrow('fig4-arrow-20nm', 33, 1.66, 1.765, CYAN);
ylabel('fig4-y-title', 2358, 192, 'σxx (x10⁻³ μΩcm⁻¹)', 15);
txt('fig4-x-title', 2538, 359, 'Temperature (K)', {'font-size': 16});
const g4i = frame('fig4-inset', {x0: 2559, y0: 184, x1: 2695, y1: 283}, [2, 8], [9.88, 12.75]);
xticks(g4i, 'fig4-inset-x', f4InsetXTicks, f4InsetXTicks.map(String));
yticks(g4i, 'fig4-inset-y', f4InsetYTicks, f4InsetYTicks.map(String));
line(g4i, 'fig4-inset-fit', [f4InsetX[0], f4InsetX[4]], [f4InsetY[0], f4InsetY[4]], RED, 1);
marks(g4i, 'fig4-inset-point', f4InsetX, f4InsetY, 'sq', '#1a8f9a', 2.8);
ylabel('fig4-inset-y-title', 2539, 237, 'ln(Tm²d) (nmK²)', 13);
txt('fig4-inset-x-title', 2631, 312, '1/Tmd²(x10⁻⁵K⁻¹nm⁻²)', {'font-size': 13});
</script>
</body></html>
